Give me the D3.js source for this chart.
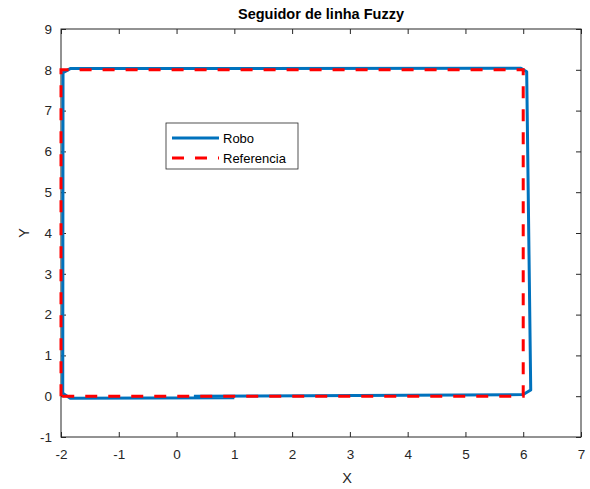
<!DOCTYPE html>
<html>
<head>
<meta charset="utf-8">
<script src="https://cdn.jsdelivr.net/npm/d3@7"></script>
<style>
  body { margin: 0; background: #fff; }
  text { font-family: "Liberation Sans", Arial, sans-serif; }
</style>
</head>
<body>
<svg id="chart"></svg>
<script>
// reference path (red dashed) and robot path (blue)
const refX = [-2, -2, 6, 6, -2];
const refY = [0, 8, 8, 0, 0];
const roboX = [0.3, 6.0, 6.13, 6.06, 5.96, -1.84, -1.965, -1.97, -1.84, 1.0];
const roboY = [0.0, 0.04, 0.15, 7.95, 8.04, 8.03, 7.93, 0.07, -0.05, -0.04];
const xTicks = [-2, -1, 0, 1, 2, 3, 4, 5, 6, 7];
const yTicks = [-1, 0, 1, 2, 3, 4, 5, 6, 7, 8, 9];
const seriesNames = ["Robo", "Referencia"];

const W = 590, H = 489;
const margin = {top: 29, right: 9, bottom: 52, left: 61},
    width = W - margin.left - margin.right,
    height = H - margin.top - margin.bottom;

const svg = d3.select("#chart")
    .attr("width", W)
    .attr("height", H);
const g = svg.append("g")
    .attr("transform", `translate(${margin.left}, ${margin.top})`);

let x = d3.scaleLinear().domain([-2, 7]).range([0, width]);
let y = d3.scaleLinear().domain([-1, 9]).range([height, 0]);

const axisColor = "#262626";
const tickLen = 5;
const fmt = d => String(d);   // plain hyphen minus, like the original

// box
g.append("rect")
    .attr("width", width)
    .attr("height", height)
    .attr("fill", "none")
    .attr("stroke", axisColor)
    .attr("stroke-width", 1);

function styleAxis(sel) {
    sel.select(".domain").remove();
    sel.selectAll(".tick line").attr("stroke", axisColor);
    sel.selectAll(".tick text")
        .attr("fill", axisColor)
        .style("font-size", "13.5px");
}

g.append("g")
    .attr("transform", `translate(0, ${height})`)
    .call(d3.axisBottom(x).tickValues(xTicks).tickSize(-tickLen).tickPadding(12).tickFormat(fmt))
    .call(styleAxis);
g.append("g")
    .call(d3.axisTop(x).tickValues(xTicks).tickSize(-tickLen).tickFormat(""))
    .call(styleAxis);
g.append("g")
    .call(d3.axisLeft(y).tickValues(yTicks).tickSize(-tickLen).tickPadding(9).tickFormat(fmt))
    .call(styleAxis);
g.append("g")
    .attr("transform", `translate(${width}, 0)`)
    .call(d3.axisRight(y).tickValues(yTicks).tickSize(-tickLen).tickFormat(""))
    .call(styleAxis);

const line = d3.line()
    .x(d => x(d[0]))
    .y(d => y(d[1]));

const roboPts = roboX.map((v, i) => [v, roboY[i]]);
const refPts = refX.map((v, i) => [v, refY[i]]);

g.append("path")
    .datum(roboPts)
    .attr("d", line)
    .attr("fill", "none")
    .attr("stroke", "#0072BD")
    .attr("stroke-width", 3)
    .attr("stroke-linejoin", "round");

g.append("path")
    .datum(refPts)
    .attr("d", line)
    .attr("fill", "none")
    .attr("stroke", "#FF0000")
    .attr("stroke-width", 3)
    .attr("stroke-dasharray", "12,11");

// title and labels
svg.append("text")
    .text("Seguidor de linha Fuzzy")
    .attr("x", margin.left + width / 2)
    .attr("y", 19)
    .attr("text-anchor", "middle")
    .style("font-size", "14.5px")
    .style("font-weight", "bold")
    .attr("fill", "#000");
svg.append("text")
    .text("X")
    .attr("x", margin.left + width / 2 + 26)
    .attr("y", 483)
    .attr("text-anchor", "middle")
    .style("font-size", "14.5px")
    .attr("fill", axisColor);
svg.append("text")
    .text("Y")
    .attr("transform", `translate(29, ${margin.top + height / 2}) rotate(-90)`)
    .attr("text-anchor", "middle")
    .style("font-size", "14.5px")
    .attr("fill", axisColor);

// legend
const leg = svg.append("g").attr("transform", "translate(166, 123)");
leg.append("rect")
    .attr("width", 132)
    .attr("height", 46)
    .attr("fill", "#fff")
    .attr("stroke", axisColor)
    .attr("stroke-width", 0.8);
const legStyles = [
    {color: "#0072BD", dash: null},
    {color: "#FF0000", dash: "12,11"}
];
seriesNames.forEach((name, i) => {
    const yy = 15 + i * 20;
    leg.append("line")
        .attr("x1", 6).attr("x2", 53)
        .attr("y1", yy).attr("y2", yy)
        .attr("stroke", legStyles[i].color)
        .attr("stroke-width", 3)
        .attr("stroke-dasharray", legStyles[i].dash);
    leg.append("text")
        .text(name)
        .attr("x", 57)
        .attr("y", yy + 4.5)
        .style("font-size", "13px")
        .attr("fill", "#000");
});
</script>
</body>
</html>
